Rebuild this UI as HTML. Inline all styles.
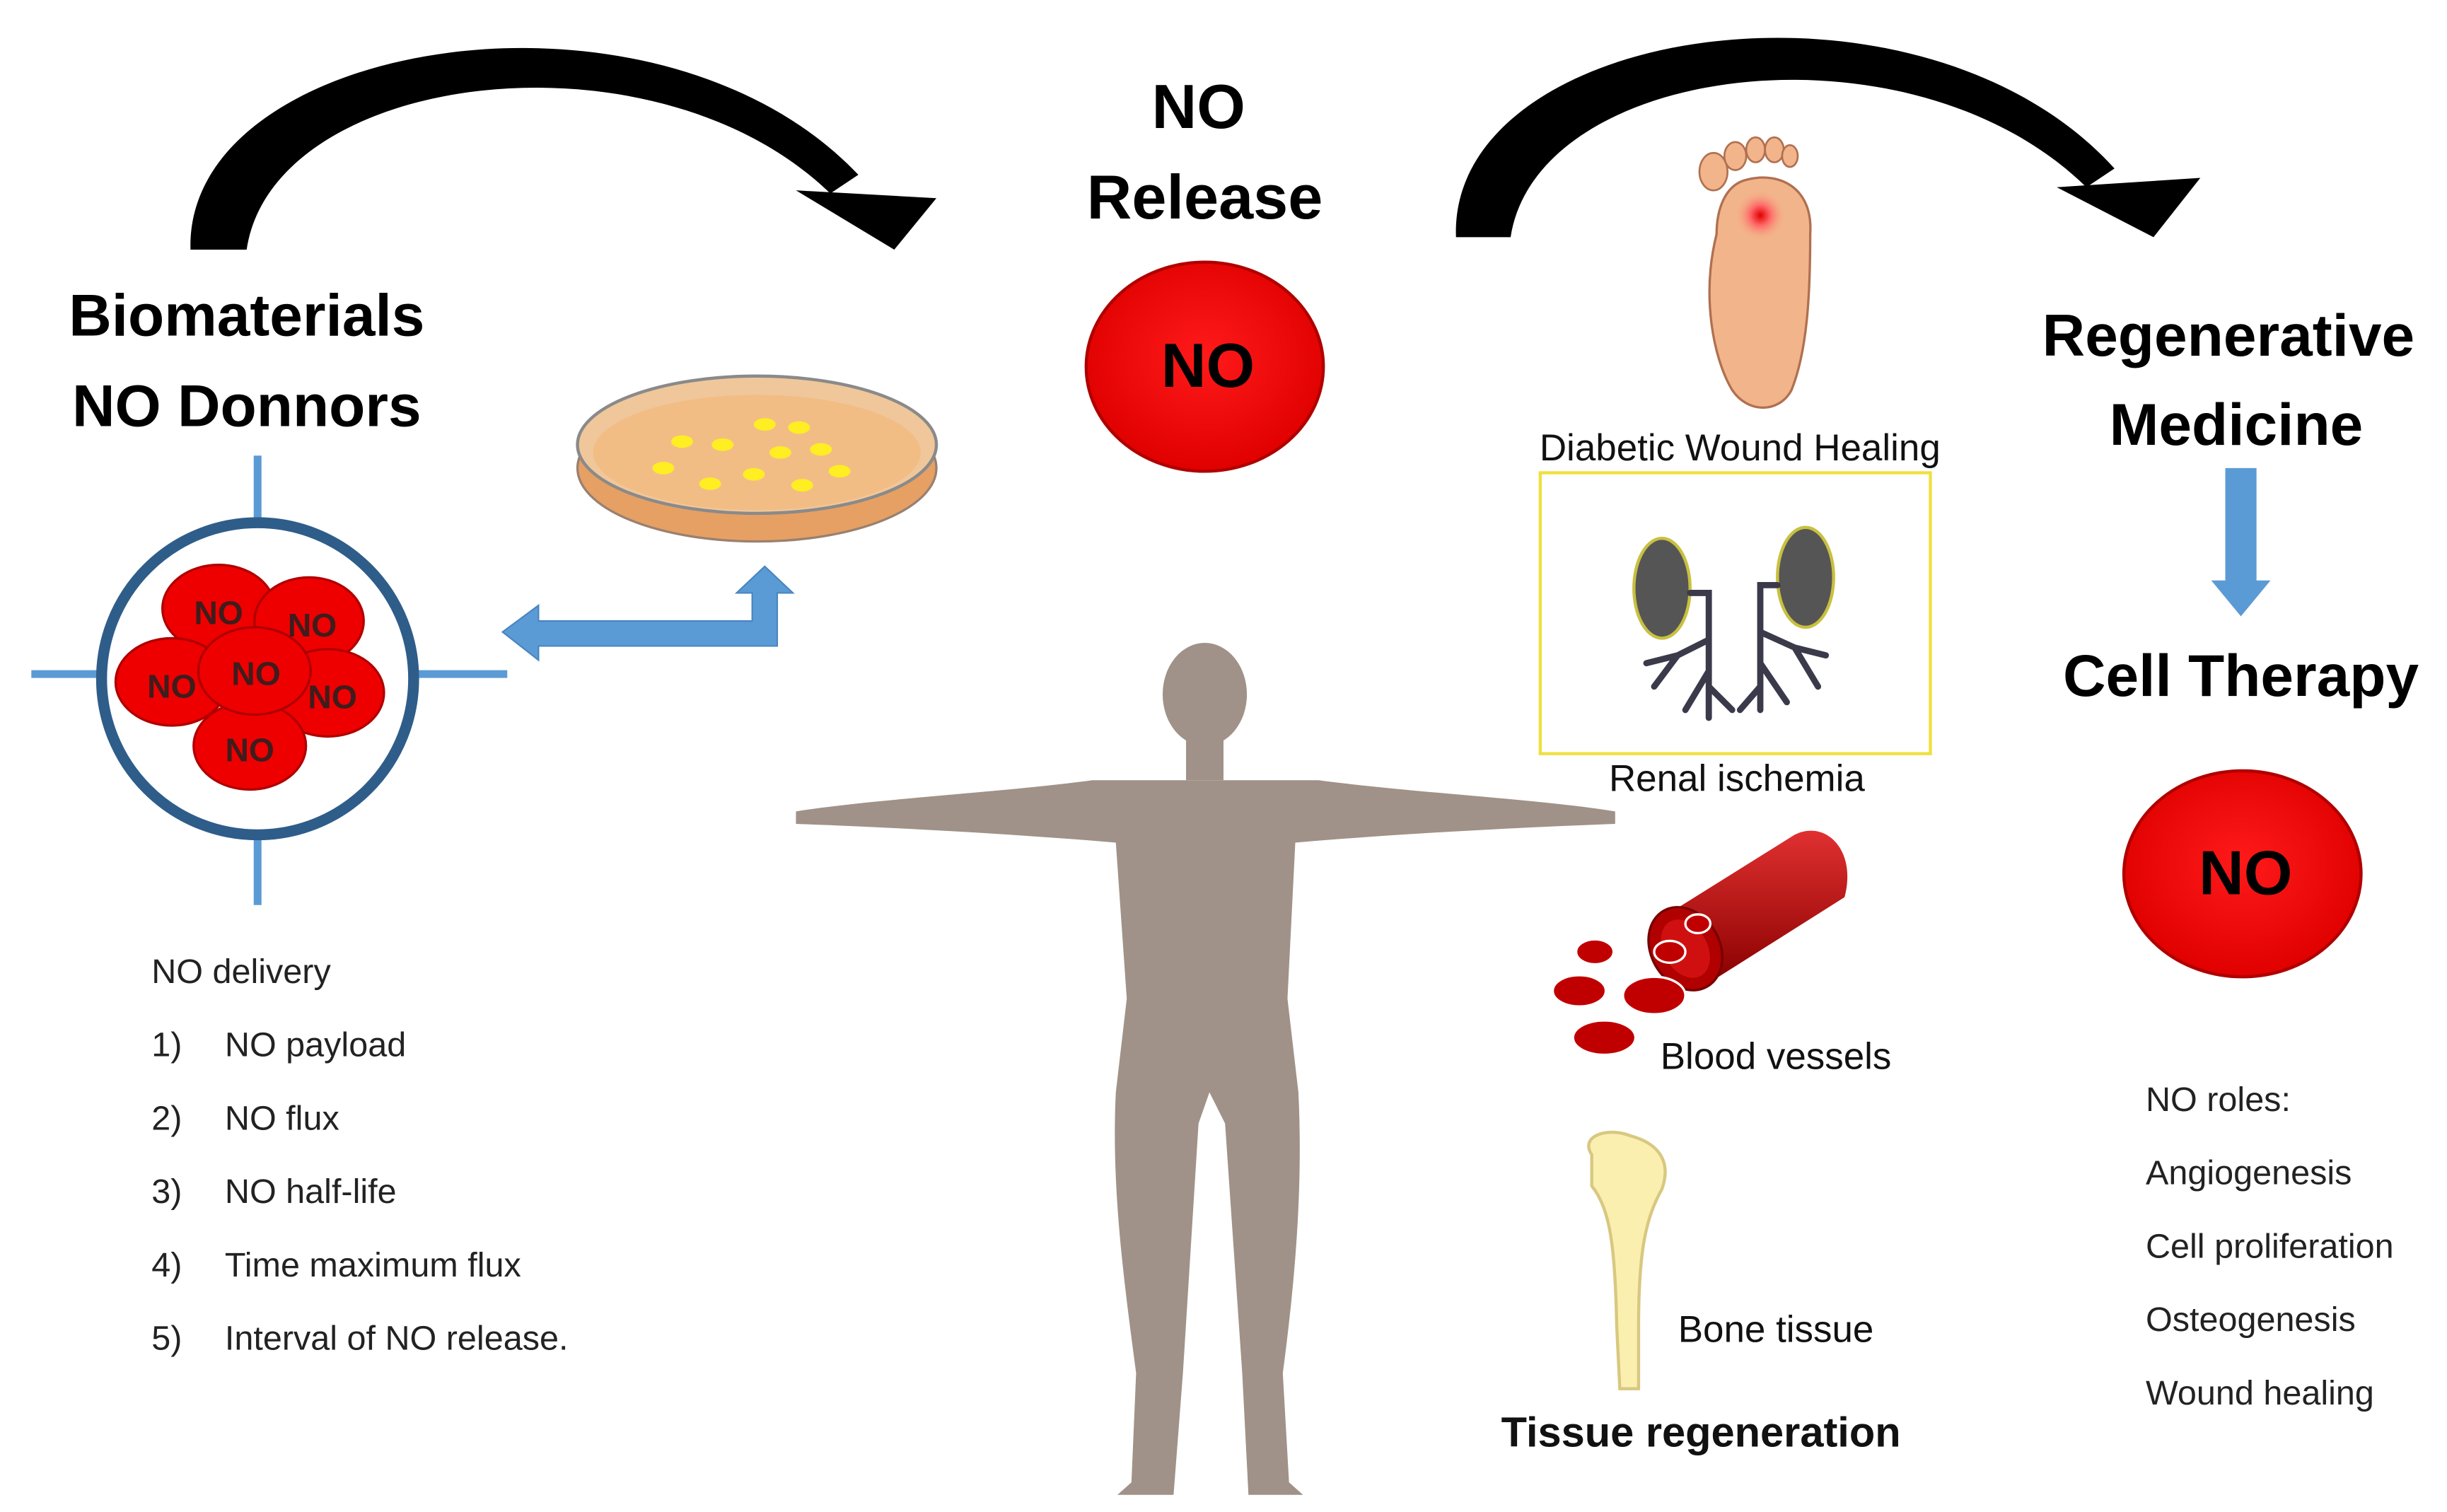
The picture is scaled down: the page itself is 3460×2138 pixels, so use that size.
<!DOCTYPE html>
<html><head><meta charset="utf-8"><style>
html,body{margin:0;padding:0;background:#fff}
svg{display:block}
text{font-family:"Liberation Sans",sans-serif}
</style></head><body>
<svg width="3460" height="2138" viewBox="0 0 1568 969" xmlns="http://www.w3.org/2000/svg">
<defs>
<radialGradient id="rg" cx="50%" cy="45%" r="55%"><stop offset="0" stop-color="#ff1a1a"/><stop offset="1" stop-color="#e00000"/></radialGradient>
<radialGradient id="wound" cx="50%" cy="50%" r="50%"><stop offset="0" stop-color="#e00000"/><stop offset="0.4" stop-color="#ff6666"/><stop offset="1" stop-color="#f5b08a" stop-opacity="0"/></radialGradient>
<linearGradient id="vess" x1="0" y1="0" x2="0" y2="1"><stop offset="0" stop-color="#e03030"/><stop offset="1" stop-color="#8a0000"/></linearGradient>
</defs>
<!-- curved arrows -->
<path d="M122,160 C118,25 420,-25 550,112 L532,124 C420,15 175,45 158,160 Z" fill="#000"/>
<polygon points="510,122 600,127 573,160" fill="#000"/>
<path d="M933,152 C928,15 1230,-30 1355,108 L1337,120 C1225,10 985,40 968,152 Z" fill="#000"/>
<polygon points="1318,120 1410,114 1380,152" fill="#000"/>
<!-- NO Release -->
<text x="768" y="82" font-size="40" font-weight="bold" text-anchor="middle">NO</text>
<text x="772" y="140" font-size="40" font-weight="bold" text-anchor="middle">Release</text>
<ellipse cx="772" cy="235" rx="76" ry="67" fill="url(#rg)" stroke="#b00000" stroke-width="2"/>
<text x="774" y="248" font-size="40" font-weight="bold" text-anchor="middle">NO</text>
<!-- Biomaterials -->
<text x="158" y="215" font-size="38" font-weight="bold" text-anchor="middle">Biomaterials</text>
<text x="158" y="273" font-size="38" font-weight="bold" text-anchor="middle">NO Donnors</text>
<line x1="165" y1="292" x2="165" y2="580" stroke="#5b9bd5" stroke-width="5"/>
<line x1="20" y1="432" x2="325" y2="432" stroke="#5b9bd5" stroke-width="5"/>
<circle cx="165" cy="435" r="100" fill="#fff" stroke="#2f5d8a" stroke-width="7"/>
<g stroke="#b00000" stroke-width="1.5" fill="#ee0000">
<ellipse cx="140" cy="390" rx="36" ry="28"/>
<ellipse cx="198" cy="398" rx="35" ry="28"/>
<ellipse cx="110" cy="437" rx="36" ry="28"/>
<ellipse cx="210" cy="444" rx="36" ry="28"/>
<ellipse cx="160" cy="478" rx="36" ry="28"/>
<ellipse cx="163" cy="430" rx="36" ry="28"/>
</g>
<g font-size="21" fill="#222" text-anchor="middle" font-weight="bold" opacity="0.85">
<text x="140" y="400">NO</text><text x="200" y="408">NO</text><text x="110" y="447">NO</text>
<text x="213" y="454">NO</text><text x="160" y="488">NO</text><text x="164" y="439">NO</text>
</g>
<!-- petri dish -->
<ellipse cx="485" cy="300" rx="115" ry="47" fill="#e6a063" stroke="#9a8070" stroke-width="1.5"/>
<ellipse cx="485" cy="285" rx="115" ry="44" fill="#f0c79b" stroke="#8a8a8a" stroke-width="2"/>
<ellipse cx="485" cy="290" rx="105" ry="37" fill="#f2bd85"/>
<g fill="#ffee22">
<ellipse cx="437" cy="283" rx="7" ry="4"/><ellipse cx="463" cy="285" rx="7" ry="4"/><ellipse cx="490" cy="272" rx="7" ry="4"/>
<ellipse cx="512" cy="274" rx="7" ry="4"/><ellipse cx="500" cy="290" rx="7" ry="4"/><ellipse cx="526" cy="288" rx="7" ry="4"/>
<ellipse cx="425" cy="300" rx="7" ry="4"/><ellipse cx="455" cy="310" rx="7" ry="4"/><ellipse cx="483" cy="304" rx="7" ry="4"/>
<ellipse cx="514" cy="311" rx="7" ry="4"/><ellipse cx="538" cy="302" rx="7" ry="4"/>
</g>
<!-- blue elbow arrow -->
<path d="M322,405 L345,388 L345,398 L482,398 L482,380 L472,380 L490,363 L508,380 L498,380 L498,414 L345,414 L345,423 Z" fill="#5b9bd5" stroke="#4a86c0" stroke-width="1"/>
<!-- NO delivery -->
<g font-size="22" fill="#222">
<text x="97" y="630">NO delivery</text>
<text x="97" y="677">1)</text><text x="144" y="677">NO payload</text>
<text x="97" y="724">2)</text><text x="144" y="724">NO flux</text>
<text x="97" y="771">3)</text><text x="144" y="771">NO half-life</text>
<text x="97" y="818">4)</text><text x="144" y="818">Time maximum flux</text>
<text x="97" y="865">5)</text><text x="144" y="865">Interval of NO release.</text>
</g>
<!-- human -->
<g fill="#a09288">
<ellipse cx="772" cy="445" rx="27" ry="33"/>
<rect x="760" y="470" width="24" height="30"/>
<path d="M510,520 C560,512 640,508 700,500 L845,500 C905,508 985,512 1035,520 L1035,528 C980,530 900,534 830,540 L825,640 L832,700 C835,760 830,820 822,880 L826,950 L835,958 L800,958 L796,880 L785,720 L775,700 L768,720 L758,880 L752,958 L716,958 L725,950 L728,880 C720,820 712,760 715,700 L722,640 L715,540 C645,534 565,530 510,528 Z"/>
</g>
<!-- foot -->
<path d="M1100,150 C1090,190 1098,230 1110,250 C1120,265 1140,265 1148,250 C1158,225 1160,190 1160,150 C1162,120 1140,110 1120,115 C1105,118 1100,135 1100,150 Z" fill="#f2b48a" stroke="#b07050" stroke-width="1.5"/>
<g fill="#f2b48a" stroke="#b07050" stroke-width="1.2">
<ellipse cx="1098" cy="110" rx="9" ry="12"/><ellipse cx="1112" cy="100" rx="7" ry="9"/>
<ellipse cx="1125" cy="96" rx="6" ry="8"/><ellipse cx="1137" cy="96" rx="6" ry="8"/><ellipse cx="1147" cy="100" rx="5" ry="7"/>
</g>
<circle cx="1128" cy="138" r="16" fill="url(#wound)"/>
<text x="1115" y="295" font-size="24" fill="#111" text-anchor="middle">Diabetic Wound Healing</text>
<rect x="987" y="303" width="250" height="180" fill="none" stroke="#f0e040" stroke-width="2"/>
<!-- kidneys -->
<ellipse cx="1065" cy="377" rx="18" ry="32" fill="#555" stroke="#c8c040" stroke-width="2"/>
<ellipse cx="1157" cy="370" rx="18" ry="32" fill="#555" stroke="#c8c040" stroke-width="2"/>
<g stroke="#3a3a4a" stroke-width="4" fill="none" stroke-linecap="round">
<path d="M1083,380 L1095,380 L1095,460 M1095,410 L1075,420 L1060,440 M1095,430 L1080,455 M1075,420 L1055,425 M1095,440 L1110,455"/>
<path d="M1139,375 L1128,375 L1128,455 M1128,405 L1150,415 L1165,440 M1128,425 L1145,450 M1150,415 L1170,420 M1128,440 L1115,455"/>
</g>
<text x="1113" y="507" font-size="24" fill="#111" text-anchor="middle">Renal ischemia</text>
<!-- blood vessel -->
<path d="M1062,590 L1150,535 C1170,525 1190,545 1182,575 L1095,630 Z" fill="url(#vess)"/>
<ellipse cx="1080" cy="608" rx="22" ry="28" transform="rotate(-30 1080 608)" fill="#b00000" stroke="#700" stroke-width="1.5"/>
<ellipse cx="1080" cy="608" rx="14" ry="20" transform="rotate(-30 1080 608)" fill="#d01010"/>
<g fill="#c00000" stroke="#fff" stroke-width="1.5">
<ellipse cx="1022" cy="610" rx="12" ry="8"/><ellipse cx="1012" cy="635" rx="17" ry="10"/>
<ellipse cx="1060" cy="638" rx="20" ry="12"/><ellipse cx="1028" cy="665" rx="20" ry="11"/>
<ellipse cx="1070" cy="610" rx="10" ry="7"/><ellipse cx="1088" cy="592" rx="8" ry="6"/>
</g>
<text x="1138" y="685" font-size="24" fill="#111" text-anchor="middle">Blood vessels</text>
<!-- bone -->
<path d="M1020,740 C1012,728 1030,722 1045,728 C1060,732 1072,742 1065,762 C1055,780 1050,800 1050,850 L1050,890 L1038,890 L1036,850 C1035,800 1032,775 1020,760 Z" fill="#fbefb0" stroke="#d8c880" stroke-width="2"/>
<text x="1138" y="860" font-size="24" fill="#111" text-anchor="middle">Bone tissue</text>
<text x="1090" y="927" font-size="27" font-weight="bold" fill="#111" text-anchor="middle">Tissue regeneration</text>
<!-- right -->
<text x="1428" y="228" font-size="38" font-weight="bold" text-anchor="middle">Regenerative</text>
<text x="1433" y="285" font-size="38" font-weight="bold" text-anchor="middle">Medicine</text>
<path d="M1426,300 L1446,300 L1446,372 L1455,372 L1436,395 L1417,372 L1426,372 Z" fill="#5b9bd5"/>
<text x="1436" y="446" font-size="38" font-weight="bold" text-anchor="middle">Cell Therapy</text>
<ellipse cx="1437" cy="560" rx="76" ry="66" fill="url(#rg)" stroke="#b00000" stroke-width="2"/>
<text x="1439" y="573" font-size="40" font-weight="bold" text-anchor="middle">NO</text>
<g font-size="22" fill="#222">
<text x="1375" y="712">NO roles:</text>
<text x="1375" y="759">Angiogenesis</text>
<text x="1375" y="806">Cell proliferation</text>
<text x="1375" y="853">Osteogenesis</text>
<text x="1375" y="900">Wound healing</text>
</g>
</svg>
</body></html>
